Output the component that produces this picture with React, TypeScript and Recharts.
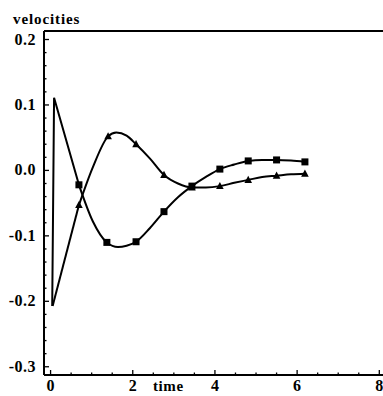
import { Line, LineChart, XAxis, YAxis } from "recharts";

// square-marked series
const SQ_T = [0.04, 0.085, 0.69, 1.03, 1.37, 1.64, 1.85, 2.08, 2.42, 2.76, 3.1, 3.44, 3.78, 4.12, 4.47, 4.81, 5.15, 5.5, 5.85, 6.19];
const SQ_V = [-0.207, 0.111, -0.022, -0.078, -0.11, -0.117, -0.115, -0.109, -0.088, -0.063, -0.041, -0.024, -0.01, 0.002, 0.009, 0.0145, 0.016, 0.016, 0.015, 0.013];
const SQ_MARK = [0, 0, 1, 0, 1, 0, 0, 1, 0, 1, 0, 1, 0, 1, 0, 1, 0, 1, 0, 1];

// triangle-marked series
const TR_T = [0.05, 0.69, 1.03, 1.4, 1.6, 1.85, 2.08, 2.42, 2.76, 3.1, 3.44, 3.78, 4.12, 4.47, 4.81, 5.15, 5.5, 5.85, 6.19];
const TR_V = [-0.207, -0.053, 0.005, 0.052, 0.058, 0.053, 0.04, 0.018, -0.007, -0.02, -0.026, -0.026, -0.024, -0.019, -0.0145, -0.01, -0.008, -0.006, -0.005];
const TR_MARK = [0, 1, 0, 1, 0, 0, 1, 0, 1, 0, 1, 0, 1, 0, 1, 0, 1, 0, 1];

const X_TICKS = [0, 0.5, 1, 1.5, 2, 2.5, 3, 3.5, 4, 4.5, 5, 5.5, 6, 6.5, 7, 7.5, 8];
const Y_TICKS = [
  -0.3, -0.28, -0.26, -0.24, -0.22, -0.2, -0.18, -0.16, -0.14, -0.12, -0.1, -0.08, -0.06, -0.04, -0.02, 0,
  0.02, 0.04, 0.06, 0.08, 0.1, 0.12, 0.14, 0.16, 0.18, 0.2,
];

const squares = SQ_T.map((t, i) => ({ t, v: SQ_V[i], m: SQ_MARK[i] }));
const triangles = TR_T.map((t, i) => ({ t, v: TR_V[i], m: TR_MARK[i] }));
// the sharp start is drawn straight, the rest smooth
const squaresHead = squares.slice(0, 3);
const squaresTail = squares.slice(2);
const trianglesHead = triangles.slice(0, 2);
const trianglesTail = triangles.slice(1);

const FONT = "'Liberation Serif', 'Times New Roman', serif";
const M = 8;
const X_DOMAIN = [-0.16, 8.09];

const isMajorX = (v: number) => Math.abs(v / 2 - Math.round(v / 2)) < 1e-6;
const isMajorY = (v: number) => Math.abs(v * 10 - Math.round(v * 10)) < 1e-6;

function XTick(props: any) {
  const { x, y, payload } = props;
  const major = isMajorX(payload.value);
  const ay = y - M;
  return (
    <g>
      <line x1={x} x2={x} y1={ay} y2={ay - (major ? 5 : 2.5)} stroke="#000" strokeWidth={1.3} />
      {major && (
        <text x={x} y={ay + 16} textAnchor="middle" fontFamily={FONT} fontWeight="bold" fontSize={16} fill="#000">
          {payload.value}
        </text>
      )}
    </g>
  );
}

function YTick(props: any) {
  const { x, y, payload } = props;
  const major = isMajorY(payload.value);
  const ax = x + M;
  return (
    <g>
      <line x1={ax} x2={ax + (major ? 5 : 2.5)} y1={y} y2={y} stroke="#000" strokeWidth={1.3} />
      {major && (
        <text x={ax - 8} y={y + 5} textAnchor="end" fontFamily={FONT} fontWeight="bold" fontSize={16} letterSpacing={0.5} fill="#000">
          {payload.value.toFixed(1)}
        </text>
      )}
    </g>
  );
}

function SquareDot(props: any) {
  const { cx, cy, payload, index } = props;
  if (!payload.m) return <g key={`s${index}`} />;
  return <rect key={`s${index}`} x={cx - 3.5} y={cy - 3.5} width={7} height={7} fill="#000" />;
}

function TriangleDot(props: any) {
  const { cx, cy, payload, index } = props;
  if (!payload.m) return <g key={`t${index}`} />;
  return <polygon key={`t${index}`} points={`${cx},${cy - 4.2} ${cx + 3.8},${cy + 3} ${cx - 3.8},${cy + 3}`} fill="#000" />;
}

const lineProps = {
  xAxisId: "b",
  dataKey: "v",
  stroke: "#000",
  strokeWidth: 2,
  activeDot: false,
  isAnimationActive: false,
} as const;

export default function App() {
  return (
    <div style={{ position: "absolute", left: 0, top: 0, background: "#fff" }}>
      <LineChart width={383} height={396} margin={{ top: 30, right: 0, left: 0, bottom: 0 }}>
        <XAxis
          xAxisId="b"
          type="number"
          dataKey="t"
          domain={X_DOMAIN}
          ticks={X_TICKS}
          interval={0}
          height={21}
          tickSize={0}
          tickMargin={M}
          tickLine={false}
          axisLine={{ stroke: "#000", strokeWidth: 2 }}
          tick={<XTick />}
          allowDataOverflow
          label={{
            content: ({ viewBox }: any) => (
              <text x={viewBox.x + 109} y={viewBox.y + 16} fontFamily={FONT} fontWeight="bold" fontSize={15} letterSpacing={0.6} fill="#000">
                time
              </text>
            ),
          }}
        />
        <XAxis
          xAxisId="top"
          orientation="top"
          type="number"
          dataKey="t"
          domain={X_DOMAIN}
          height={1}
          tick={false}
          tickLine={false}
          axisLine={{ stroke: "#000", strokeWidth: 2 }}
          allowDataOverflow
        />
        <YAxis
          type="number"
          domain={[-0.3126, 0.213]}
          ticks={Y_TICKS}
          interval={0}
          width={44}
          tickSize={0}
          tickMargin={M}
          tickLine={false}
          axisLine={{ stroke: "#000", strokeWidth: 2 }}
          tick={<YTick />}
          allowDataOverflow
          label={{
            content: ({ viewBox }: any) => (
              <text x={13} y={viewBox.y - 7} fontFamily={FONT} fontWeight="bold" fontSize={15} letterSpacing={0.9} fill="#000">
                velocities
              </text>
            ),
          }}
        />
        <Line {...lineProps} data={squaresHead} type="linear" dot={false} />
        <Line {...lineProps} data={squaresTail} type="monotone" dot={SquareDot} />
        <Line {...lineProps} data={trianglesHead} type="linear" dot={false} />
        <Line {...lineProps} data={trianglesTail} type="monotone" dot={TriangleDot} />
      </LineChart>
    </div>
  );
}
